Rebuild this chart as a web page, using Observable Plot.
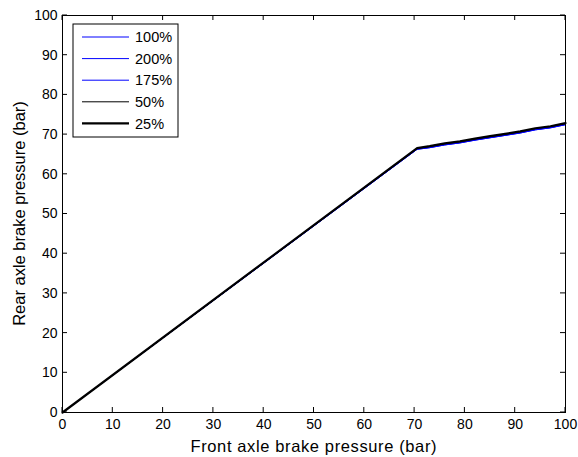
<!DOCTYPE html>
<html><head><meta charset="utf-8">
<script src="https://cdn.jsdelivr.net/npm/d3@7"></script>
<script src="https://cdn.jsdelivr.net/npm/@observablehq/plot@0.6"></script>
<style>body{margin:0;background:#fff}</style>
</head><body><div id="chart"></div>
<script>
const front = [0, 70.5, 73, 76, 79, 82, 85, 88, 91, 94, 97, 100];
const rear100 = [0, 66.3, 66.7, 67.4, 67.9, 68.6, 69.2, 69.8, 70.4, 71.2, 71.7, 72.5];
const rear200 = [0, 66.3, 66.7, 67.4, 67.9, 68.6, 69.2, 69.8, 70.4, 71.2, 71.7, 72.5];
const rear175 = [0, 66.4, 66.8, 67.5, 68.0, 68.7, 69.3, 69.9, 70.5, 71.3, 71.8, 72.6];
const rear50  = [0, 66.5, 67.0, 67.7, 68.2, 68.9, 69.5, 70.1, 70.7, 71.5, 72.0, 72.8];
const rear25  = [0, 66.6, 67.1, 67.8, 68.3, 69.0, 69.6, 70.2, 70.8, 71.6, 72.1, 72.9];
const seriesNames = ["100%", "200%", "175%", "50%", "25%"];
const seriesColors = ["#0000ff", "#0000ff", "#0000ff", "#000000", "#000000"];
const seriesWidths = [1, 1, 1, 1, 2.2];
const ticks = [0, 10, 20, 30, 40, 50, 60, 70, 80, 90, 100];

const rears = [rear100, rear200, rear175, rear50, rear25];
const rows = [];
rears.forEach((r, si) => r.forEach((v, i) => rows.push({s: seriesNames[si], x: front[i], y: v})));

const W = 578, H = 457;
const mL = 62, mT = 15, mR = 13, mB = 45;
const font = "Liberation Sans, Arial, sans-serif";

const lineMarks = [];
[0, 1, 2, 3, 4].forEach(si => {
  lineMarks.push(Plot.line(rows.filter(d => d.s === seriesNames[si]), {
    x: "x", y: "y", stroke: seriesColors[si], strokeWidth: seriesWidths[si]
  }));
});

const plot = Plot.plot({
  width: W, height: H,
  marginLeft: mL, marginTop: mT, marginRight: mR, marginBottom: mB,
  style: {fontFamily: font, fontSize: "14px", background: "#fff", color: "#000"},
  x: {type: "linear", domain: [0, 100], ticks: ticks, tickSize: 0, tickPadding: 7, label: null},
  y: {type: "linear", domain: [0, 100], ticks: ticks, tickSize: 0, tickPadding: 5, label: null},
  marks: [
    ...lineMarks,
    Plot.frame({stroke: "#000", strokeWidth: 1})
  ]
});

const svg = d3.select(plot);
const xs = plot.scale("x"), ys = plot.scale("y");
const tg = svg.append("g").attr("stroke", "#000").attr("stroke-width", 1);
const x0 = xs.apply(0), x1 = xs.apply(100), y0 = ys.apply(0), y1 = ys.apply(100);
ticks.forEach(t => {
  const px = xs.apply(t), py = ys.apply(t);
  tg.append("line").attr("x1", px).attr("x2", px).attr("y1", y0).attr("y2", y0 - 5);
  tg.append("line").attr("x1", px).attr("x2", px).attr("y1", y1).attr("y2", y1 + 5);
  tg.append("line").attr("y1", py).attr("y2", py).attr("x1", x0).attr("x2", x0 + 5);
  tg.append("line").attr("y1", py).attr("y2", py).attr("x1", x1).attr("x2", x1 - 5);
});

svg.append("text").attr("x", (x0 + x1) / 2).attr("y", 451.5).attr("text-anchor", "middle")
  .attr("font-family", font).attr("font-size", 16.5).attr("textLength", 246).text("Front axle brake pressure (bar)");
svg.append("text").attr("transform", `translate(25,${(y0 + y1) / 2}) rotate(-90)`).attr("text-anchor", "middle")
  .attr("font-family", font).attr("font-size", 16.5).text("Rear axle brake pressure (bar)");

const lg = svg.append("g");
lg.append("rect").attr("x", 73).attr("y", 24).attr("width", 105).attr("height", 113)
  .attr("fill", "#fff").attr("stroke", "#000").attr("stroke-width", 1);
seriesNames.forEach((n, i) => {
  const yy = 37 + i * 21.6;
  lg.append("line").attr("x1", 82).attr("x2", 129).attr("y1", yy).attr("y2", yy)
    .attr("stroke", seriesColors[i]).attr("stroke-width", seriesWidths[i]);
  lg.append("text").attr("x", 135).attr("y", yy + 5.2).attr("text-anchor", "start")
    .attr("font-family", font).attr("font-size", 14.5).text(n);
});

document.getElementById("chart").appendChild(plot);
</script></body></html>
